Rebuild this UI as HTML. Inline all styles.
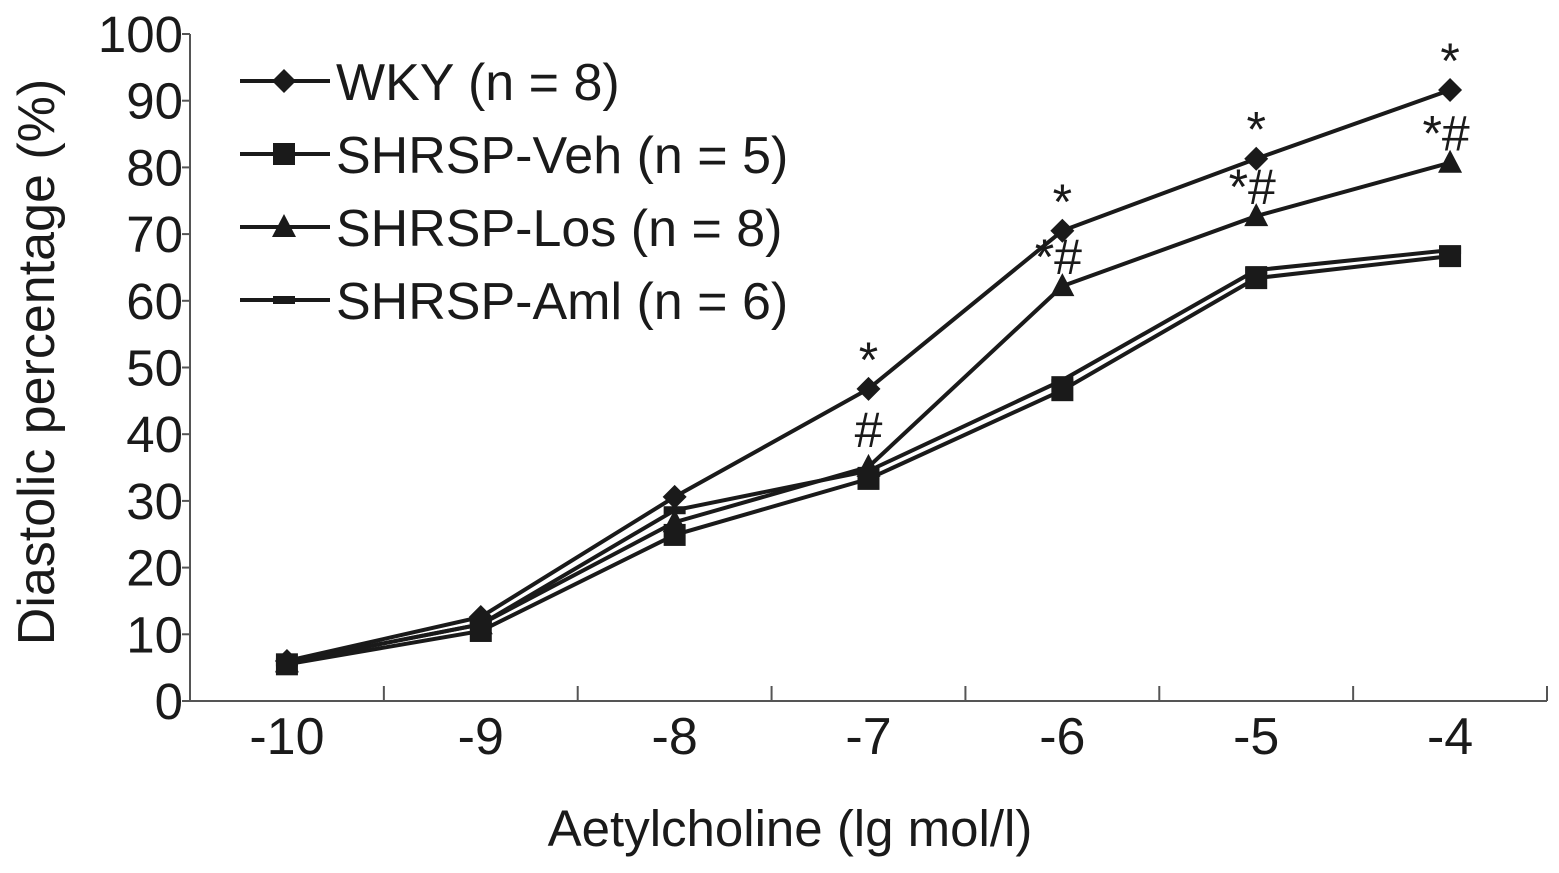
<!DOCTYPE html>
<html><head><meta charset="utf-8"><style>
body{margin:0;background:#fff;}
svg text{font-family:"Liberation Sans",Arial,sans-serif;fill:#1a1a1a;}
</style></head><body>
<svg id="chart" width="1559" height="868" xmlns="http://www.w3.org/2000/svg">
<g id="axes"></g><g id="series"></g><g id="legend"></g><g id="annot"></g>
</svg>
<script>
const categories=["-10","-9","-8","-7","-6","-5","-4"];
const yTicks=[0,10,20,30,40,50,60,70,80,90,100];
const wky=[6,12.6,30.6,46.8,70.5,81.3,91.6];
const veh=[5.5,10.5,24.9,33.3,46.6,63.4,66.7];
const los=[5.8,11.5,26.8,35.1,62.2,72.7,80.7];
const aml=[5.8,11.5,28.6,34.5,48.1,64.6,67.6];
const seriesNames=["WKY (n = 8)","SHRSP-Veh (n = 5)","SHRSP-Los (n = 8)","SHRSP-Aml (n = 6)"];
const annotations=[{i:3,y:46.8,t:"*"},{i:4,y:70.5,t:"*"},{i:5,y:81.3,t:"*"},{i:6,y:91.6,t:"*"},
 {i:3,y:35.1,t:"#"},{i:4,y:62.2,t:"*#"},{i:5,y:72.7,t:"*#"},{i:6,y:80.7,t:"*#"}];
const NS="http://www.w3.org/2000/svg";
const X0=190,X1=1547,Y0=701,Y100=34;
const band=(X1-X0)/categories.length;
const x=i=>X0+band*(i+0.5);
const y=v=>Y0-(Y0-Y100)*v/100;
function mk(tag,attrs,parent){const e=document.createElementNS(NS,tag);for(const k in attrs)e.setAttribute(k,attrs[k]);parent.appendChild(e);return e;}
const axes=document.getElementById('axes');
let a=mk('line',{x1:X0,y1:Y0,x2:X1,y2:Y0,stroke:'#555','stroke-width':2},axes);

a=mk('line',{x1:X0,y1:Y100,x2:X0,y2:Y0,stroke:'#555','stroke-width':2},axes);

yTicks.forEach(v=>{
 const t=mk('line',{x1:X0-8,y1:y(v),x2:X0,y2:y(v),stroke:'#555','stroke-width':2},axes);
 
 const l=mk('text',{x:X0-7,y:y(v)+18,'text-anchor':'end','font-size':51},axes);l.textContent=v;
 
});
for(let i=1;i<=categories.length;i++){
 const t=mk('line',{x1:X0+band*i,y1:Y0-15,x2:X0+band*i,y2:Y0,stroke:'#555','stroke-width':2},axes);
 
}
categories.forEach((c,i)=>{
 const l=mk('text',{x:x(i),y:754,'text-anchor':'middle','font-size':52},axes);l.textContent=c;
 
});
let tt=mk('text',{x:790,y:846,'text-anchor':'middle','font-size':51},axes);tt.textContent="Aetylcholine (lg mol/l)";

tt=mk('text',{x:0,y:0,'text-anchor':'middle','font-size':52,transform:'translate(54,362) rotate(-90)'},axes);tt.textContent="Diastolic percentage (%)";

function marker(type,cx,cy,p){
 let e;
 if(type==='diamond')e=mk('polygon',{points:`${cx},${cy-12} ${cx+12},${cy} ${cx},${cy+12} ${cx-12},${cy}`,fill:'#1a1a1a'},p);
 else if(type==='square')e=mk('rect',{x:cx-11,y:cy-11,width:22,height:22,fill:'#1a1a1a'},p);
 else if(type==='triangle')e=mk('polygon',{points:`${cx},${cy-13} ${cx+12},${cy+10} ${cx-12},${cy+10}`,fill:'#1a1a1a'},p);
 else e=mk('rect',{x:cx-11,y:cy-4,width:22,height:8,fill:'#1a1a1a'},p);
 return e;
}
const S=[[wky,'diamond','wky'],[aml,'dash','shrsp-aml'],[los,'triangle','shrsp-los'],[veh,'square','shrsp-veh']];
const sg=document.getElementById('series');
S.forEach(([d,m,n])=>{
 const pl=mk('polyline',{points:d.map((v,i)=>x(i)+','+y(v)).join(' '),fill:'none',stroke:'#1a1a1a','stroke-width':4},sg);
 
});
S.forEach(([d,m,n])=>{
 d.forEach((v,i)=>{const e=marker(m,x(i),y(v),sg);
 });
});
const lg=document.getElementById('legend');
const lm=['diamond','square','triangle','dash'];
seriesNames.forEach((s,k)=>{
 const cy=81+k*73;
 const l=mk('line',{x1:240,y1:cy,x2:330,y2:cy,stroke:'#1a1a1a','stroke-width':4},lg);
 
 const e=marker(lm[k],284,cy,lg);
 
 const t=mk('text',{x:336,y:cy+19,'font-size':52},lg);t.textContent=s;
 
});
const an=document.getElementById('annot');
annotations.forEach(o=>{
 const t=mk('text',{x:x(o.i)-(o.t.length>1?4:0),y:y(o.y)-(o.t==='#'?20:12),'text-anchor':'middle','font-size':50},an);t.textContent=o.t;
 
});
</script>
</body></html>
